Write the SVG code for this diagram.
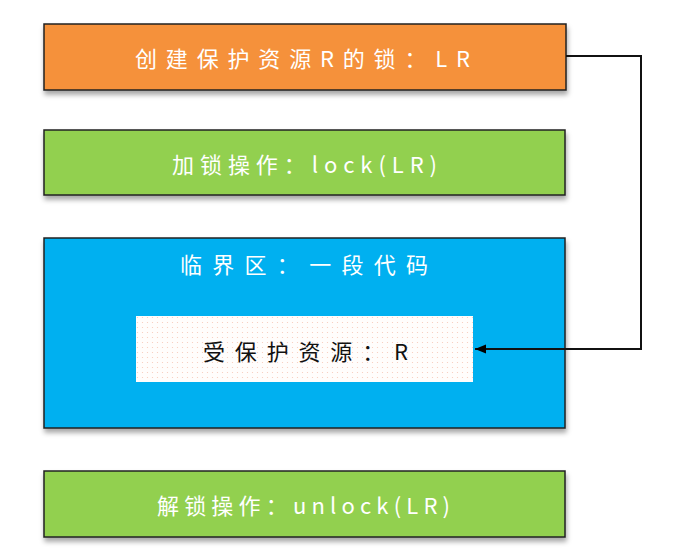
<svg xmlns="http://www.w3.org/2000/svg" width="673" height="558" viewBox="0 0 673 558">
<defs>
<filter id="sh" x="-10%" y="-20%" width="120%" height="150%">
<feDropShadow dx="1" dy="4" stdDeviation="2.5" flood-color="#000" flood-opacity="0.35"/>
</filter>
<pattern id="dots" width="5" height="5" patternUnits="userSpaceOnUse">
<rect width="5" height="5" fill="#fffdfc"/>
<circle cx="2.5" cy="2.5" r="0.6" fill="#f7c9b8"/>
</pattern>
<marker id="ah" viewBox="0 0 10 10" refX="10" refY="5" markerWidth="11" markerHeight="11" markerUnits="userSpaceOnUse" orient="auto">
<path d="M0,1 L10,5 L0,9 z" fill="#000"/>
</marker>
<style>
.box{stroke:#222;stroke-width:1.5;filter:url(#sh)}
.t{font-family:"Noto Sans CJK SC","Noto Sans",sans-serif;font-size:22px;fill:#fff;text-anchor:start;dominant-baseline:central}
.dark{fill:#111}
</style>
</defs>
<rect width="673" height="558" fill="#fff"/>
<g id="create-lock">
<rect class="box" x="44" y="24" width="522" height="66" fill="#F5913A"/>
<text class="t" x="135" y="57" textLength="335" lengthAdjust="spacing">创建保护资源R的锁：LR</text>
</g>
<g id="lock">
<rect class="box" x="44" y="130" width="521" height="65" fill="#92D050"/>
<text class="t" x="172" y="163" textLength="265" lengthAdjust="spacing">加锁操作：lock(LR)</text>
</g>
<g id="critical-section">
<rect class="box" x="44" y="238" width="521" height="190" fill="#00B0F0"/>
<text class="t" x="180" y="263" textLength="248" lengthAdjust="spacing">临界区：一段代码</text>
</g>
<g id="resource">
<rect x="136" y="316" width="337" height="66" fill="url(#dots)"/>
<text class="t dark" x="203" y="350" textLength="205" lengthAdjust="spacing">受保护资源：R</text>
</g>
<g id="unlock">
<rect class="box" x="44" y="471" width="521" height="66" fill="#92D050"/>
<text class="t" x="157" y="504" textLength="293" lengthAdjust="spacing">解锁操作：unlock(LR)</text>
</g>
<g id="connectors">
<polyline points="566,56 641,56 641,349 475,349" fill="none" stroke="#111" stroke-width="2"  marker-end="url(#ah)"/>
</g>
</svg>
